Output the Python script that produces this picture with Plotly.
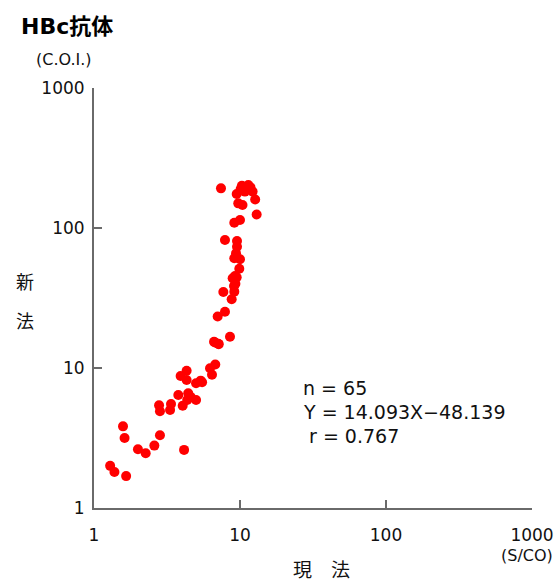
import plotly.graph_objects as go

# Current method (S/CO) vs new method (C.O.I.) values
current_method = [
    1.29, 1.38, 1.66, 1.58, 1.62, 2.00, 2.26, 2.59, 2.83, 4.14,
    2.79, 2.83, 3.37, 3.32, 3.78, 4.05, 4.42, 4.35, 5.00, 3.92,
    4.31, 4.31, 5.00, 5.38, 6.23, 6.77, 6.43, 6.74, 7.15, 8.54,
    7.41, 10.3, 11.4, 9.49, 10.8, 12.2, 12.7, 9.73, 10.4, 13.0,
    10.0, 9.14, 7.89, 9.54, 9.54, 9.39, 9.14, 10.0, 9.89, 9.24,
    9.49, 8.91, 9.10, 7.69, 9.14, 8.77, 7.89, 7.03, 6.64, 7.10,
    9.30, 10.1, 11.8, 4.60, 5.50,
]
new_method = [
    2.00, 1.81, 1.69, 3.83, 3.16, 2.63, 2.46, 2.79, 3.31, 2.60,
    5.41, 4.91, 5.53, 5.01, 6.41, 5.38, 6.60, 5.91, 5.91, 8.77,
    9.57, 8.21, 7.78, 8.12, 9.95, 10.6, 8.96, 15.2, 14.8, 16.7,
    192, 200, 203, 175, 182, 182, 160, 150, 146, 125,
    114, 109, 82.0, 80.7, 73.5, 65.9, 60.8, 59.8, 51.2, 45.4,
    44.4, 43.7, 38.5, 34.9, 35.1, 31.0, 25.2, 23.3, 15.4, 14.9,
    40.0, 190, 195, 6.20, 7.90,
]

tick_vals = [1, 10, 100, 1000]
tick_text = ["1", "10", "100", "1000"]

stats_lines = ["n = 65", "Y = 14.093X\u221248.139", " r = 0.767"]

FONT = "DejaVu Sans, Noto Sans CJK JP, sans-serif"
AXIS_COLOR = "#6a6a6a"
TEXT_COLOR = "#111111"

fig = go.Figure()
fig.add_trace(go.Scatter(
    x=current_method, y=new_method, mode="markers",
    marker=dict(color="#ff0000", size=10, line=dict(width=0)),
    showlegend=False, hoverinfo="x+y",
))

axis_common = dict(
    type="log",
    tickvals=tick_vals, ticktext=tick_text,
    showgrid=False, zeroline=False,
    showline=True, linecolor=AXIS_COLOR, linewidth=2,
    ticks="inside", ticklen=8, tickwidth=1.5, tickcolor=AXIS_COLOR,
    tickfont=dict(family=FONT, size=17, color=TEXT_COLOR),
    mirror=False, automargin=False,
)

fig.update_layout(
    autosize=False,
    width=558, height=580,
    margin=dict(l=94, r=26, t=88, b=72, pad=0, autoexpand=False),
    paper_bgcolor="white", plot_bgcolor="white",
    font=dict(family=FONT, color=TEXT_COLOR),
    xaxis=dict(range=[0, 3], ticklabelstandoff=11, **axis_common),
    yaxis=dict(range=[0, 3], ticklabelstandoff=4, **axis_common),
)

annotations = [
    dict(text="<b>HBc抗体</b>", x=-0.171, y=1.1476, xanchor="left", yanchor="middle",
         font=dict(size=22, family=FONT, color="#000000")),
    dict(text="(C.O.I.)", x=-0.0685, y=1.0667, xanchor="center", yanchor="middle",
         font=dict(size=16, family=FONT, color=TEXT_COLOR)),
    dict(text="(S/CO)", x=1.0525, y=-0.112, xanchor="right", yanchor="middle",
         font=dict(size=16, family=FONT, color=TEXT_COLOR)),
    dict(text="現\u3000法", x=0.5205, y=-0.1476, xanchor="center", yanchor="middle",
         font=dict(size=19, family=FONT, color=TEXT_COLOR)),
    dict(text="新", x=-0.1575, y=0.538, xanchor="center", yanchor="middle",
         font=dict(size=18, family=FONT, color=TEXT_COLOR)),
    dict(text="法", x=-0.1575, y=0.445, xanchor="center", yanchor="middle",
         font=dict(size=18, family=FONT, color=TEXT_COLOR)),
]
stat_y = [0.2857, 0.2286, 0.1714]
for line, yy in zip(stats_lines, stat_y):
    annotations.append(dict(text=line, x=0.4726, y=yy, xanchor="left", yanchor="middle",
                            font=dict(size=19, family=FONT, color=TEXT_COLOR)))
for a in annotations:
    a.update(xref="paper", yref="paper", showarrow=False)
fig.update_layout(annotations=annotations)

fig.write_html(
    "out.html",
    config={"responsive": False, "displayModeBar": False},
    post_script="document.body.style.margin='0';document.body.style.overflow='hidden';",
)
